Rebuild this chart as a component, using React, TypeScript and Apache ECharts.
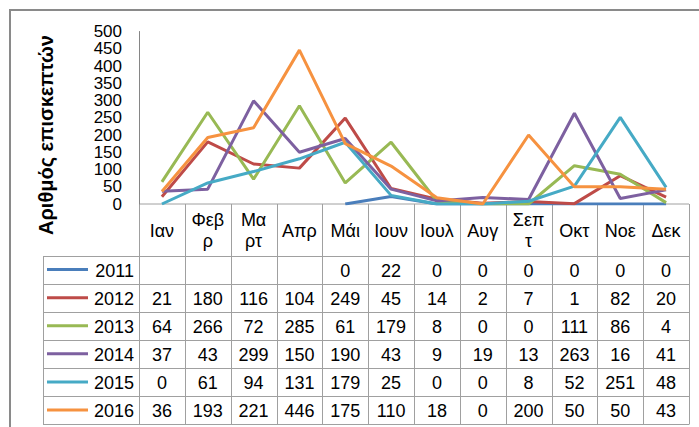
import React, { useEffect, useRef } from "react";
import * as echarts from "echarts";

const months = ["Ιαν", "Φεβ\nρ", "Μα\nρτ", "Απρ", "Μάι", "Ιουν", "Ιουλ", "Αυγ", "Σεπ\nτ", "Οκτ", "Νοε", "Δεκ"];
const years = ["2011", "2012", "2013", "2014", "2015", "2016"];
const v2011 = [null, null, null, null, 0, 22, 0, 0, 0, 0, 0, 0];
const v2012 = [21, 180, 116, 104, 249, 45, 14, 2, 7, 1, 82, 20];
const v2013 = [64, 266, 72, 285, 61, 179, 8, 0, 0, 111, 86, 4];
const v2014 = [37, 43, 299, 150, 190, 43, 9, 19, 13, 263, 16, 41];
const v2015 = [0, 61, 94, 131, 179, 25, 0, 0, 8, 52, 251, 48];
const v2016 = [36, 193, 221, 446, 175, 110, 18, 0, 200, 50, 50, 43];
const seriesValues = [v2011, v2012, v2013, v2014, v2015, v2016];
const colors = ["#4A7EBB", "#BE4B48", "#98B954", "#7D60A0", "#46AAC5", "#F69240"];
const yTitle = "Αριθμός επισκεπτών";

export default function App() {
  const ref = useRef<HTMLDivElement>(null);
  useEffect(() => {
    const chart = echarts.init(ref.current!, null, { renderer: "svg" });
    const FONT = '"Liberation Sans", Arial, sans-serif';
    const GL = 139, GR = 689, GT = 31.5, GB = 204;
    const colW = (GR - GL) / months.length;
    const headBottom = 255.5;
    const tableBottom = 424;
    const rowH = (tableBottom - headBottom) / years.length;
    const legLeft = 43;
    const lineColor = "#A0A0A0";

    const graphics: any[] = [];
    graphics.push({
      type: "rect",
      shape: { x: 10, y: 10, width: 720, height: 440 },
      style: { fill: "none", stroke: "#8A8A8A", lineWidth: 2 },
      silent: true,
    });
    graphics.push({
      type: "text",
      x: 46,
      y: 135,
      rotation: Math.PI / 2,
      style: {
        text: yTitle,
        fontSize: 20,
        fontWeight: "bold",
        fontFamily: FONT,
        fill: "#000",
        align: "center",
        verticalAlign: "middle",
      },
    });
    graphics.push({
      type: "line",
      shape: { x1: GL, y1: GB, x2: GR, y2: GB },
      style: { stroke: lineColor, lineWidth: 1 },
    });
    for (let k = 0; k <= years.length; k++) {
      const y = Math.round(headBottom + k * rowH) + 0.5;
      graphics.push({
        type: "line",
        shape: { x1: legLeft, y1: y, x2: GR, y2: y },
        style: { stroke: lineColor, lineWidth: 1 },
      });
    }
    for (let i = 0; i <= months.length; i++) {
      const x = Math.round(GL + i * colW) + 0.5;
      graphics.push({
        type: "line",
        shape: { x1: x, y1: GB, x2: x, y2: tableBottom + 0.5 },
        style: { stroke: lineColor, lineWidth: 1 },
      });
    }
    graphics.push({
      type: "line",
      shape: { x1: legLeft + 0.5, y1: Math.round(headBottom) + 0.5, x2: legLeft + 0.5, y2: tableBottom + 0.5 },
      style: { stroke: lineColor, lineWidth: 1 },
    });
    months.forEach((m, i) => {
      graphics.push({
        type: "text",
        x: GL + (i + 0.5) * colW,
        y: (GB + headBottom) / 2 + 1,
        style: {
          text: m,
          fontSize: 18,
          fontFamily: FONT,
          fill: "#000",
          align: "center",
          verticalAlign: "middle",
          lineHeight: 21,
        },
      });
    });
    years.forEach((yr, k) => {
      const cy = headBottom + (k + 0.5) * rowH + 1;
      graphics.push({
        type: "line",
        shape: { x1: 47, y1: cy - 1, x2: 88, y2: cy - 1 },
        style: { stroke: colors[k], lineWidth: 3 },
      });
      graphics.push({
        type: "text",
        x: 134,
        y: cy,
        style: { text: yr, fontSize: 18, fontFamily: FONT, fill: "#000", align: "right", verticalAlign: "middle" },
      });
      seriesValues[k].forEach((v, i) => {
        if (v === null) return;
        graphics.push({
          type: "text",
          x: GL + (i + 0.5) * colW,
          y: cy,
          style: { text: String(v), fontSize: 18, fontFamily: FONT, fill: "#000", align: "center", verticalAlign: "middle" },
        });
      });
    });

    chart.setOption({
      animation: false,
      grid: { left: GL, top: GT, width: GR - GL, height: GB - GT, containLabel: false },
      xAxis: {
        type: "category",
        data: months,
        boundaryGap: true,
        axisLine: { show: false },
        axisTick: { show: false },
        axisLabel: { show: false },
        splitLine: { show: false },
      },
      yAxis: {
        type: "value",
        min: 0,
        max: 500,
        interval: 50,
        axisLine: { show: true, lineStyle: { color: "#868686", width: 1 } },
        axisTick: { show: false },
        splitLine: { show: false },
        axisLabel: {
          fontSize: 17,
          lineHeight: 17,
          fontFamily: FONT,
          color: "#000",
          margin: 17,
          showMinLabel: true,
          showMaxLabel: true,
          hideOverlap: false,
        },
      },
      series: years.map((yr, k) => ({
        name: yr,
        type: "line",
        data: seriesValues[k],
        symbol: "none",
        connectNulls: false,
        lineStyle: { color: colors[k], width: 3 },
        itemStyle: { color: colors[k] },
      })),
      graphic: graphics,
    });
    return () => chart.dispose();
  }, []);
  return <div ref={ref} style={{ position: "fixed", left: 0, top: 0, width: 699, height: 427, background: "#fff" }} />;
}
